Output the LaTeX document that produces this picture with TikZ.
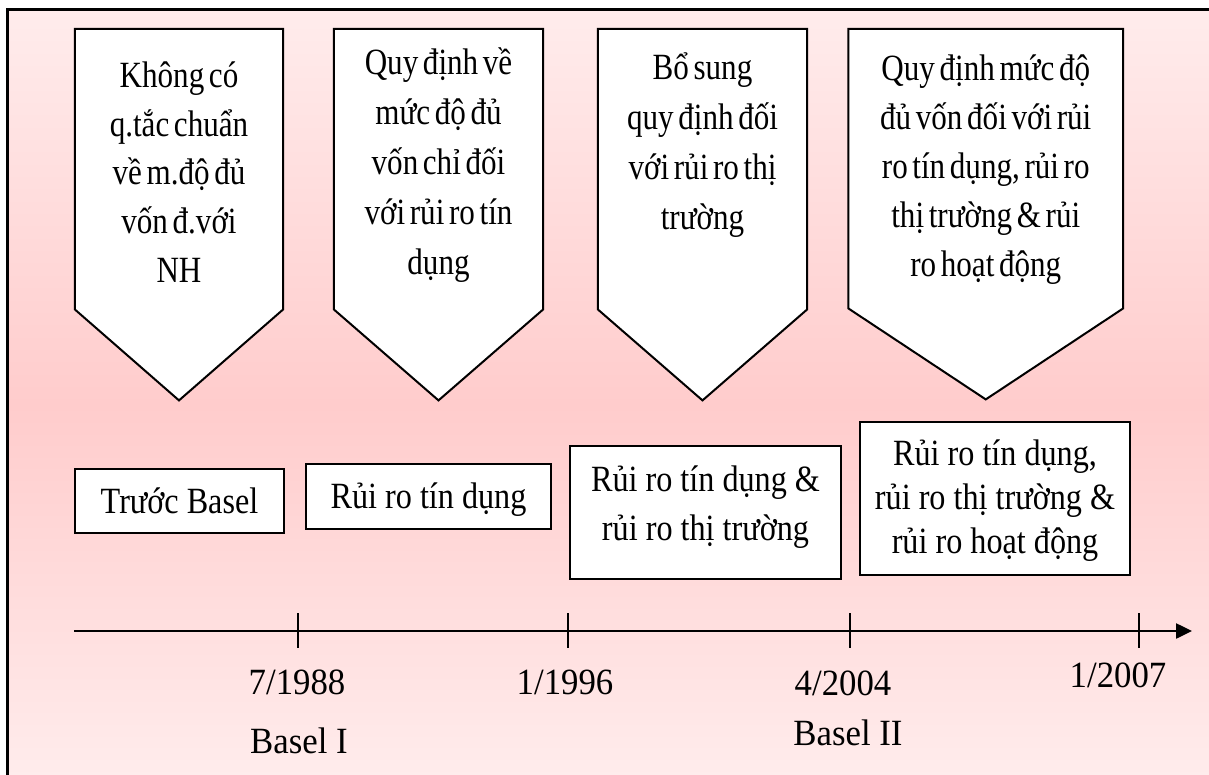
\documentclass[tikz,border=0pt]{standalone}
\usepackage{fontspec}
\setmainfont{Liberation Serif}
\newfontfamily\pentfont{Liberation Serif}[FakeStretch=0.84, WordSpace=0.6]
\newfontfamily\boxfont{Liberation Serif}[FakeStretch=0.87]
\newfontfamily\datefont{Liberation Serif}[FakeStretch=0.94]
\usetikzlibrary{arrows.meta,backgrounds}

\definecolor{bgtop}{RGB}{255,236,236}
\definecolor{bgmid}{RGB}{255,204,204}
\definecolor{bgbot}{RGB}{255,238,238}
\pgfdeclareverticalshading{slidebg}{100bp}{color(0bp)=(bgbot); color(25bp)=(bgbot); color(50bp)=(bgmid); color(75bp)=(bgtop); color(100bp)=(bgtop)}

\begin{document}
\begin{tikzpicture}[x=1pt, y=-1pt,
  pent/.style={draw, fill=white, line width=2pt},
  penttext/.style={anchor=north, inner sep=0pt, align=center},
  box/.style={draw, fill=white, line width=2pt, anchor=north, inner sep=0pt, align=center, font=\boxfont\fontsize{37}{44}\selectfont},
  date/.style={anchor=base, font=\datefont\fontsize{37}{44}\selectfont}]

\useasboundingbox (0,0) rectangle (1209,775);

\node[penttext, minimum width=208pt, text height=252.9pt, text depth=27.1pt, font=\pentfont\fontsize{37}{48.6}\selectfont] (p1) at (179,29) {Không có\\q.tắc chuẩn\\về m.độ đủ\\vốn đ.với\\NH};
\node[penttext, minimum width=209pt, text height=245pt, text depth=35pt, font=\pentfont\fontsize{37}{50}\selectfont] (p2) at (438.5,29) {Quy định về\\mức độ đủ\\vốn chỉ đối\\với rủi ro tín\\dụng};
\node[penttext, minimum width=209pt, text height=200pt, text depth=80pt, font=\pentfont\fontsize{37}{50}\selectfont] (p3) at (702.5,29) {Bổ sung\\quy định đối\\với rủi ro thị\\trường};
\node[penttext, minimum width=274.5pt, text height=247pt, text depth=32pt, font=\pentfont\fontsize{37}{49}\selectfont] (p4) at (985.75,29) {Quy định mức độ\\đủ vốn đối với rủi\\ro tín dụng, rủi ro\\thị trường \& rủi\\ro hoạt động};

\node[box, minimum width=209pt, text height=44pt, text depth=20pt] (r1) at (179.5,468) {Trước Basel};
\node[box, minimum width=245pt, text height=44pt, text depth=21pt] (r2) at (428.5,463) {Rủi ro tín dụng};
\node[box, minimum width=271pt, text height=94pt, text depth=39pt, font=\boxfont\fontsize{37}{49}\selectfont] (r3) at (705.5,445) {Rủi ro tín dụng \&\\rủi ro thị trường};
\node[box, minimum width=270pt, text height=131pt, text depth=22pt] (r4) at (995,421) {Rủi ro tín dụng,\\rủi ro thị trường \&\\rủi ro hoạt động};

\coordinate (a0) at (74,631);
\coordinate (a1) at (1192,631);
\draw[line width=2.5pt, -{Triangle[length=16pt, width=15pt]}] (a0) -- (a1);

\coordinate (t1) at (298,631);
\coordinate (t2) at (568,631);
\coordinate (t3) at (850,631);
\coordinate (t4) at (1139,631);
\foreach \t in {t1,t2,t3,t4}
  \draw[line width=2pt] (\t) ++(0,-18) -- ++(0,35);

\node[date] (d1) at (297,694) {7/1988};
\node[date] (d2) at (565,694) {1/1996};
\node[date] (d3) at (843,695) {4/2004};
\node[date] (d4) at (1118,687) {1/2007};
\node[date] (b1) at (299,753) {Basel I};
\node[date] (b2) at (848,745) {Basel II};

\begin{scope}[on background layer]
\shadedraw[shading=slidebg, line width=3pt] (7,10) rectangle (1240,800);
\foreach \p in {p1,p2,p3,p4}
  \draw[pent] (\p.north west) -- (\p.north east) -- (\p.south east) -- ([yshift=-91pt]\p.south) -- (\p.south west) -- cycle;
\end{scope}

\end{tikzpicture}
\end{document}
